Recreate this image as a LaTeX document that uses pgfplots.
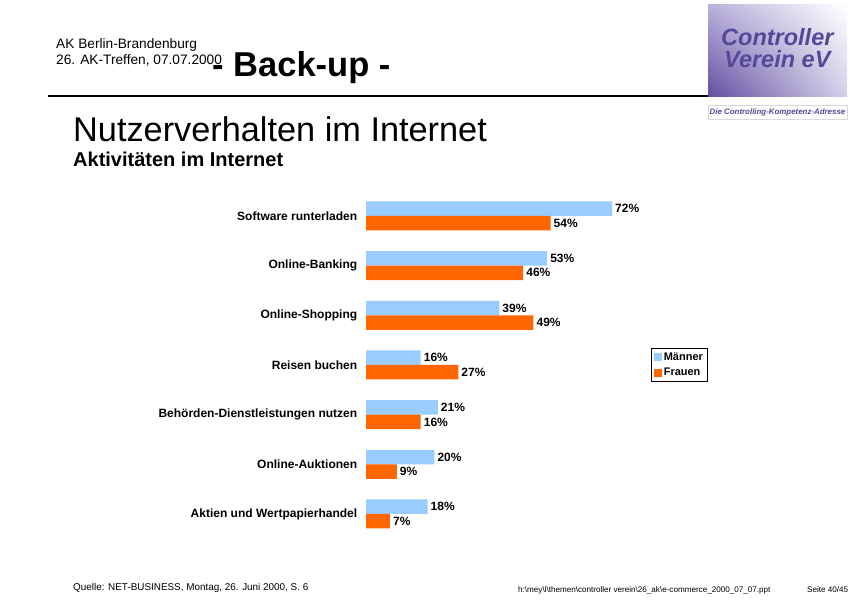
\documentclass[border=0pt]{standalone}
\usepackage{pgfplots}
\pgfplotsset{compat=1.18}
\usetikzlibrary{shadings}
\usepackage{fontspec}
\setmainfont{Liberation Sans}
\definecolor{maenner}{RGB}{153,204,255}
\definecolor{frauen}{RGB}{255,102,0}
\definecolor{logoText}{RGB}{86,72,152}
\definecolor{logoDark}{RGB}{96,78,160}
\definecolor{logoMid}{RGB}{186,176,220}
\begin{document}
\begin{tikzpicture}[x=1pt,y=1pt]
\path[use as bounding box] (0,0) rectangle (855,600);

% header
\node[anchor=base west,inner sep=0,font=\fontsize{13.7}{15}\selectfont] at (56,551) {AK Berlin-Brandenburg};
\node[anchor=base west,inner sep=0,font=\fontsize{13.7}{15}\selectfont] at (56,535) {26. AK-Treffen, 07.07.2000};
\node[anchor=base west,inner sep=0,font=\fontsize{34.5}{38}\selectfont\bfseries] at (212,523) {- Back-up -};
\draw[line width=2.2pt] (48,504) -- (710,504);

% logo
\shade[lower left=logoDark,upper left=logoMid,lower right=logoMid!60,upper right=white] (708,503) rectangle (847,595);
\node[anchor=base west,inner sep=0,text=logoText,font=\fontsize{23.5}{26}\selectfont\bfseries\itshape] at (721,554) {Controller};
\node[anchor=base west,inner sep=0,text=logoText,font=\fontsize{23.5}{26}\selectfont\bfseries\itshape] at (724,532) {Verein eV};
\draw[black!15] (708,481) rectangle (847,495);
\node[anchor=center,inner sep=0,text=logoText,font=\fontsize{7.9}{9}\selectfont\bfseries\itshape] at (777.5,488) {Die Controlling-Kompetenz-Adresse};

% titles
\node[anchor=base west,inner sep=0,font=\fontsize{34.3}{38}\selectfont] at (73,458) {Nutzerverhalten im Internet};
\node[anchor=base west,inner sep=0,font=\fontsize{20}{23}\selectfont\bfseries] at (73,433) {Aktivitäten im Internet};

% chart
\begin{axis}[
  at={(366pt,61.2pt)}, anchor=south west,
  scale only axis, width=341.7pt, height=347.7pt,
  xbar, bar width=14.5pt,
  xmin=0, xmax=100, ymin=-0.5, ymax=6.5,
  axis line style={draw=none}, tick style={draw=none},
  xtick=\empty,
  ytick={0,1,2,3,4,5,6},
  yticklabels={Aktien und Wertpapierhandel, Online-Auktionen, Behörden-Dienstleistungen nutzen, Reisen buchen, Online-Shopping, Online-Banking, Software runterladen},
  yticklabel style={anchor=east, xshift=-1pt, font=\fontsize{12}{14}\selectfont\bfseries},
  clip=false,
  /pgf/number format/assume math mode=true,
  nodes near coords={\pgfmathprintnumber{\pgfplotspointmeta}\%},
  nodes near coords style={font=\fontsize{12}{14}\selectfont\bfseries, inner sep=1.5pt, xshift=1.5pt},
  legend style={at={(1,0.5)}, anchor=east, draw=black, line width=0.6pt, font=\fontsize{11}{13}\selectfont\bfseries, inner sep=2.5pt, row sep=2pt, legend cell align=left},
  legend image code/.code={\fill[#1,draw=none] (0pt,-4pt) rectangle (8pt,4pt);},
]
\addplot[fill=maenner, draw=none, bar shift=7.25pt] coordinates {
  (18,0) (20,1) (21,2) (16,3) (39,4) (53,5) (72,6)};
\addlegendentry{Männer}
\addplot[fill=frauen, draw=none, bar shift=-7.25pt] coordinates {
  (7,0) (9,1) (16,2) (27,3) (49,4) (46,5) (54,6)};
\addlegendentry{Frauen}
\end{axis}

% footer
\node[anchor=base west,inner sep=0,font=\fontsize{9.9}{11}\selectfont] at (73,9) {Quelle: NET-BUSINESS, Montag, 26. Juni 2000, S. 6};
\node[anchor=base west,inner sep=0,font=\fontsize{8.1}{9}\selectfont] at (518,7) {h:\textbackslash mey\textbackslash l\textbackslash themen\textbackslash controller verein\textbackslash 26\_ak\textbackslash e-commerce\_2000\_07\_07.ppt};
\node[anchor=base west,inner sep=0,font=\fontsize{8.1}{9}\selectfont] at (807,7) {Seite 40/45};
\end{tikzpicture}
\end{document}
